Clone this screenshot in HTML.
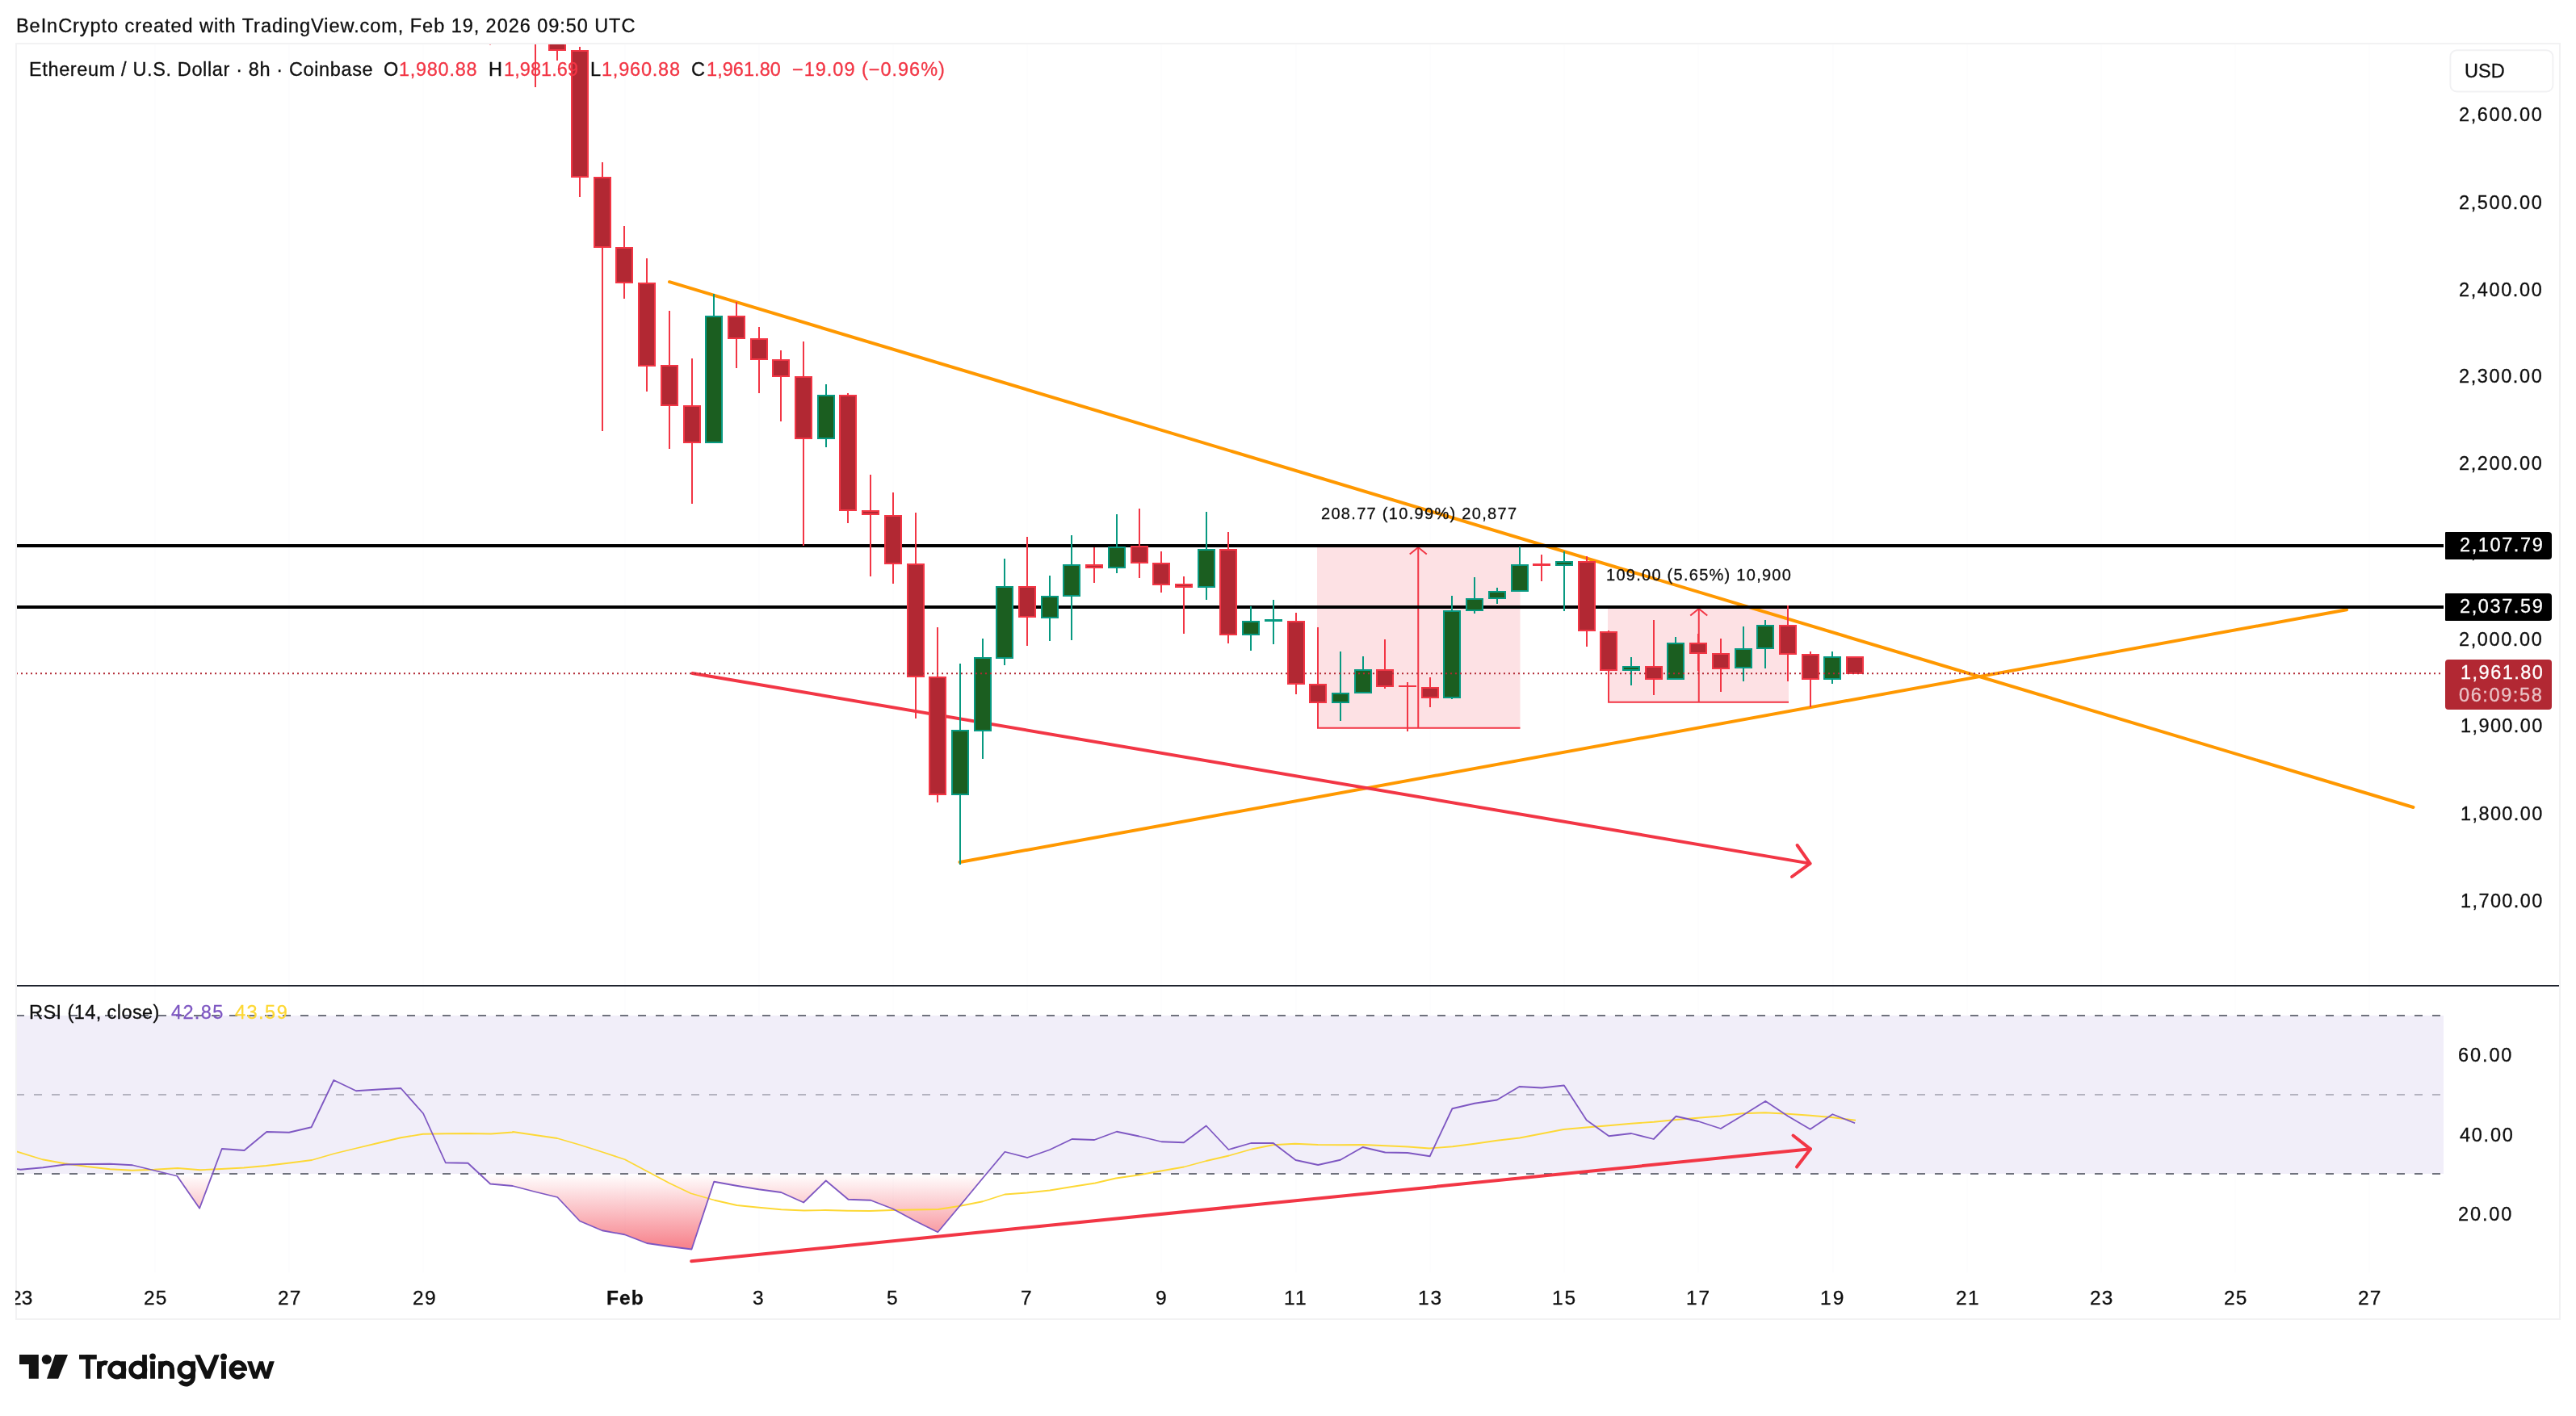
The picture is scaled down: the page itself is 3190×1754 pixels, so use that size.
<!DOCTYPE html>
<html lang="en"><head><meta charset="utf-8"><title>ETHUSD 8h chart</title>
<style>
html,body{margin:0;padding:0;background:#fff;}
body{width:3190px;height:1754px;position:relative;overflow:hidden;font-family:"Liberation Sans",sans-serif;}
svg{position:absolute;left:0;top:0;display:block}
.t{position:absolute;white-space:pre;font-family:"Liberation Sans",sans-serif;will-change:transform;-webkit-text-stroke:0.3px currentColor;}
</style></head><body>
<svg width="3190" height="1754" viewBox="0 0 3190 1754" shape-rendering="auto">
<rect x="191" y="55" width="2" height="1521" fill="#fdfdfe"/>
<rect x="357" y="55" width="2" height="1521" fill="#fdfdfe"/>
<rect x="523" y="55" width="2" height="1521" fill="#fdfdfe"/>
<rect x="773" y="55" width="2" height="1521" fill="#fdfdfe"/>
<rect x="939" y="55" width="2" height="1521" fill="#fdfdfe"/>
<rect x="1105" y="55" width="2" height="1521" fill="#fdfdfe"/>
<rect x="1271" y="55" width="2" height="1521" fill="#fdfdfe"/>
<rect x="1437" y="55" width="2" height="1521" fill="#fdfdfe"/>
<rect x="1604" y="55" width="2" height="1521" fill="#fdfdfe"/>
<rect x="1770" y="55" width="2" height="1521" fill="#fdfdfe"/>
<rect x="1936" y="55" width="2" height="1521" fill="#fdfdfe"/>
<rect x="2102" y="55" width="2" height="1521" fill="#fdfdfe"/>
<rect x="2269" y="55" width="2" height="1521" fill="#fdfdfe"/>
<rect x="2435" y="55" width="2" height="1521" fill="#fdfdfe"/>
<rect x="2601" y="55" width="2" height="1521" fill="#fdfdfe"/>
<rect x="2767" y="55" width="2" height="1521" fill="#fdfdfe"/>
<rect x="2933" y="55" width="2" height="1521" fill="#fdfdfe"/>
<rect x="21" y="1258" width="3005" height="196" fill="#f1eef9"/>
<defs><linearGradient id="g30" gradientUnits="userSpaceOnUse" x1="0" y1="1454" x2="0" y2="1601"><stop offset="0" stop-color="#f23645" stop-opacity="0"/><stop offset="1" stop-color="#f23645" stop-opacity="1"/></linearGradient><clipPath id="cb30"><rect x="21" y="1454" width="3005" height="200"/></clipPath><clipPath id="cmain"><rect x="21" y="55" width="3005" height="1165"/></clipPath><clipPath id="crsi"><rect x="21" y="1222" width="3005" height="355"/></clipPath></defs>
<path d="M20.0,1454 L20.0,1448.00 L25.5,1448.75 L53.2,1446.25 L80.9,1442.50 L108.6,1442.00 L136.3,1441.75 L164.0,1443.25 L191.7,1450.00 L219.4,1456.75 L247.1,1496.75 L274.8,1423.00 L302.5,1425.00 L330.2,1402.00 L357.9,1402.75 L385.6,1396.25 L413.3,1338.00 L441.0,1351.25 L468.7,1349.50 L496.4,1348.00 L524.1,1379.25 L551.8,1440.25 L579.5,1440.75 L607.2,1466.50 L634.9,1469.00 L662.6,1476.25 L690.3,1483.00 L718.0,1512.50 L745.7,1524.25 L773.4,1529.25 L801.1,1540.00 L828.8,1544.00 L856.5,1547.50 L884.2,1463.75 L911.9,1468.75 L939.6,1473.25 L967.3,1477.00 L995.1,1489.50 L1022.8,1462.50 L1050.5,1485.75 L1078.2,1486.75 L1105.9,1497.50 L1133.6,1512.50 L1161.3,1526.25 L1189.0,1493.25 L1216.7,1459.75 L1244.4,1426.75 L1272.1,1434.00 L1299.8,1424.25 L1327.5,1411.00 L1355.2,1412.00 L1382.9,1401.75 L1410.6,1407.50 L1438.3,1414.25 L1466.0,1415.25 L1493.7,1394.50 L1521.4,1424.00 L1549.1,1416.00 L1576.8,1416.00 L1604.5,1437.00 L1632.2,1443.00 L1659.9,1436.75 L1687.6,1421.00 L1715.3,1427.50 L1743.0,1428.00 L1770.7,1432.25 L1798.4,1373.25 L1826.1,1366.75 L1853.8,1362.50 L1881.5,1346.00 L1909.2,1347.50 L1936.9,1344.50 L1964.7,1387.50 L1992.4,1407.25 L2020.1,1404.00 L2047.8,1411.00 L2075.5,1382.75 L2103.2,1389.00 L2130.9,1398.00 L2158.6,1381.25 L2186.3,1364.00 L2214.0,1382.50 L2241.7,1398.75 L2269.4,1380.25 L2297.1,1391.25 L2297.1,1454 Z" fill="url(#g30)" clip-path="url(#cb30)"/>
<line x1="20" y1="1258" x2="3026" y2="1258" stroke="#6f727d" stroke-width="2" stroke-dasharray="10 12" stroke-dashoffset="0"/>
<line x1="20" y1="1356" x2="3026" y2="1356" stroke="#b4b3c0" stroke-width="2" stroke-dasharray="10 12" stroke-dashoffset="0"/>
<line x1="20" y1="1454" x2="3026" y2="1454" stroke="#6f727d" stroke-width="2" stroke-dasharray="10 12" stroke-dashoffset="0"/>
<g clip-path="url(#crsi)">
<polyline fill="none" stroke="#fdd835" stroke-width="1.8" stroke-linejoin="round" points="20.0,1426.25 52.5,1436.25 80.0,1441.25 107.5,1445.00 136.2,1448.25 163.8,1449.75 191.2,1448.75 220.0,1447.00 248.0,1449.25 274.2,1448.00 302.0,1446.50 329.5,1444.00 358.8,1440.50 386.2,1437.00 413.8,1429.00 440.5,1422.50 468.8,1415.75 496.2,1409.25 523.8,1404.75 552.0,1404.25 580.0,1404.00 608.0,1404.50 635.0,1402.50 635.0,1402.00 690.0,1410.00 717.5,1418.00 745.8,1427.00 773.8,1436.25 802.0,1451.25 828.8,1465.50 855.5,1478.25 885.0,1486.75 912.5,1493.00 940.0,1495.75 967.5,1498.25 995.8,1499.50 1022.0,1499.00 1049.5,1499.75 1077.5,1500.00 1105.0,1499.00 1132.5,1498.50 1162.0,1498.00 1189.2,1493.75 1217.0,1488.25 1244.2,1479.50 1271.8,1477.50 1300.0,1474.50 1327.5,1470.00 1356.2,1465.50 1381.8,1459.50 1410.0,1455.50 1437.5,1450.50 1466.2,1445.50 1493.8,1438.00 1522.0,1431.50 1550.0,1423.50 1576.2,1418.25 1603.8,1416.75 1632.0,1418.00 1660.0,1418.25 1688.0,1418.00 1716.2,1419.25 1743.8,1420.50 1770.0,1422.50 1798.8,1420.25 1826.2,1416.75 1853.8,1412.75 1882.0,1409.50 1909.2,1404.25 1936.2,1399.00 1964.5,1396.50 1991.8,1394.25 2020.0,1391.75 2048.0,1389.75 2075.5,1387.00 2102.5,1384.75 2130.0,1382.50 2157.5,1379.25 2185.8,1378.25 2213.8,1379.75 2241.8,1381.75 2270.0,1384.25 2298.0,1387.75"/>
<polyline fill="none" stroke="#7e57c2" stroke-width="1.8" stroke-linejoin="round" points="20.0,1448.00 25.5,1448.75 53.2,1446.25 80.9,1442.50 108.6,1442.00 136.3,1441.75 164.0,1443.25 191.7,1450.00 219.4,1456.75 247.1,1496.75 274.8,1423.00 302.5,1425.00 330.2,1402.00 357.9,1402.75 385.6,1396.25 413.3,1338.00 441.0,1351.25 468.7,1349.50 496.4,1348.00 524.1,1379.25 551.8,1440.25 579.5,1440.75 607.2,1466.50 634.9,1469.00 662.6,1476.25 690.3,1483.00 718.0,1512.50 745.7,1524.25 773.4,1529.25 801.1,1540.00 828.8,1544.00 856.5,1547.50 884.2,1463.75 911.9,1468.75 939.6,1473.25 967.3,1477.00 995.1,1489.50 1022.8,1462.50 1050.5,1485.75 1078.2,1486.75 1105.9,1497.50 1133.6,1512.50 1161.3,1526.25 1189.0,1493.25 1216.7,1459.75 1244.4,1426.75 1272.1,1434.00 1299.8,1424.25 1327.5,1411.00 1355.2,1412.00 1382.9,1401.75 1410.6,1407.50 1438.3,1414.25 1466.0,1415.25 1493.7,1394.50 1521.4,1424.00 1549.1,1416.00 1576.8,1416.00 1604.5,1437.00 1632.2,1443.00 1659.9,1436.75 1687.6,1421.00 1715.3,1427.50 1743.0,1428.00 1770.7,1432.25 1798.4,1373.25 1826.1,1366.75 1853.8,1362.50 1881.5,1346.00 1909.2,1347.50 1936.9,1344.50 1964.7,1387.50 1992.4,1407.25 2020.1,1404.00 2047.8,1411.00 2075.5,1382.75 2103.2,1389.00 2130.9,1398.00 2158.6,1381.25 2186.3,1364.00 2214.0,1382.50 2241.7,1398.75 2269.4,1380.25 2297.1,1391.25"/>
<g fill="none" stroke="#f23645" stroke-width="4" stroke-linecap="round" stroke-linejoin="round"><line x1="856.2" y1="1562.3" x2="2242" y2="1423.3"/><polyline points="2220.5,1406.5 2242,1423.3 2225,1445.5"/></g>
</g>
<g clip-path="url(#cmain)">
<rect x="1631" y="676" width="251.5" height="226.5" fill="#fde1e4"/>
<rect x="1991" y="752" width="224" height="118.5" fill="#fde1e4"/>
<g fill="none" stroke="#f23645" stroke-width="2"><line x1="1631" y1="901.75" x2="1882.5" y2="901.75"/><line x1="1756.25" y1="901.75" x2="1756.25" y2="678.5"/><polyline points="1745.75,686.5 1756.25,678 1766.75,686.5"/><line x1="1991" y1="869.75" x2="2215" y2="869.75"/><line x1="2103.75" y1="869.75" x2="2103.75" y2="754.5"/><polyline points="2093.25,762.5 2103.75,754 2114.25,762.5"/></g>
<g fill="none" stroke="#ff9800" stroke-width="4" stroke-linecap="round"><line x1="829" y1="349.2" x2="2988.5" y2="1000"/><line x1="1188.5" y1="1068" x2="2906" y2="755.3"/></g>
<g fill="none" stroke="#f23645" stroke-width="4" stroke-linecap="round" stroke-linejoin="round"><line x1="857.5" y1="834" x2="2241.5" y2="1069.6"/><polyline points="2225.6,1047 2241.5,1069.6 2219,1086"/></g>
<rect x="21" y="674" width="3005" height="4" fill="#000"/>
<rect x="21" y="750" width="3005" height="4" fill="#000"/>
<rect x="662" y="40" width="2" height="68" fill="#f23645"/>
<rect x="606" y="40" width="2" height="15.5" fill="#f23645"/>
<rect x="689" y="40.00" width="2" height="35.00" fill="#f23645"/>
<rect x="680" y="41.00" width="20" height="21.00" fill="#b22833" stroke="#f23645" stroke-width="2"/>
<rect x="717" y="58.00" width="2" height="186.00" fill="#f23645"/>
<rect x="708" y="63.00" width="20" height="156.00" fill="#b22833" stroke="#f23645" stroke-width="2"/>
<rect x="745" y="201.00" width="2" height="333.00" fill="#f23645"/>
<rect x="736" y="220.00" width="20" height="86.00" fill="#b22833" stroke="#f23645" stroke-width="2"/>
<rect x="772" y="280.00" width="2" height="90.00" fill="#f23645"/>
<rect x="763" y="307.00" width="20" height="43.00" fill="#b22833" stroke="#f23645" stroke-width="2"/>
<rect x="800" y="320.00" width="2" height="165.00" fill="#f23645"/>
<rect x="791" y="351.00" width="20" height="102.00" fill="#b22833" stroke="#f23645" stroke-width="2"/>
<rect x="828" y="385.00" width="2" height="171.00" fill="#f23645"/>
<rect x="819" y="453.00" width="20" height="49.00" fill="#b22833" stroke="#f23645" stroke-width="2"/>
<rect x="856" y="444.00" width="2" height="180.00" fill="#f23645"/>
<rect x="847" y="503.00" width="20" height="45.00" fill="#b22833" stroke="#f23645" stroke-width="2"/>
<rect x="883" y="364.00" width="2" height="185.00" fill="#089981"/>
<rect x="874" y="392.00" width="20" height="156.00" fill="#1b5e20" stroke="#089981" stroke-width="2"/>
<rect x="911" y="374.00" width="2" height="82.00" fill="#f23645"/>
<rect x="902" y="392.00" width="20" height="27.00" fill="#b22833" stroke="#f23645" stroke-width="2"/>
<rect x="939" y="405.00" width="2" height="82.00" fill="#f23645"/>
<rect x="930" y="420.00" width="20" height="25.00" fill="#b22833" stroke="#f23645" stroke-width="2"/>
<rect x="966" y="434.00" width="2" height="88.00" fill="#f23645"/>
<rect x="957" y="446.00" width="20" height="20.00" fill="#b22833" stroke="#f23645" stroke-width="2"/>
<rect x="994" y="423.00" width="2" height="253.00" fill="#f23645"/>
<rect x="985" y="467.00" width="20" height="76.00" fill="#b22833" stroke="#f23645" stroke-width="2"/>
<rect x="1022" y="476.00" width="2" height="78.00" fill="#089981"/>
<rect x="1013" y="490.00" width="20" height="53.00" fill="#1b5e20" stroke="#089981" stroke-width="2"/>
<rect x="1049" y="487.00" width="2" height="161.00" fill="#f23645"/>
<rect x="1040" y="490.00" width="20" height="142.00" fill="#b22833" stroke="#f23645" stroke-width="2"/>
<rect x="1077" y="588.00" width="2" height="126.00" fill="#f23645"/>
<rect x="1068" y="633.00" width="20" height="4.00" fill="#b22833" stroke="#f23645" stroke-width="2"/>
<rect x="1105" y="610.00" width="2" height="113.00" fill="#f23645"/>
<rect x="1096" y="639.00" width="20" height="59.00" fill="#b22833" stroke="#f23645" stroke-width="2"/>
<rect x="1133" y="635.00" width="2" height="255.00" fill="#f23645"/>
<rect x="1124" y="699.00" width="20" height="139.00" fill="#b22833" stroke="#f23645" stroke-width="2"/>
<rect x="1160" y="777.00" width="2" height="217.00" fill="#f23645"/>
<rect x="1151" y="839.00" width="20" height="145.00" fill="#b22833" stroke="#f23645" stroke-width="2"/>
<rect x="1188" y="822.00" width="2" height="249.00" fill="#089981"/>
<rect x="1179" y="905.00" width="20" height="79.00" fill="#1b5e20" stroke="#089981" stroke-width="2"/>
<rect x="1216" y="791.00" width="2" height="149.00" fill="#089981"/>
<rect x="1207" y="815.00" width="20" height="90.00" fill="#1b5e20" stroke="#089981" stroke-width="2"/>
<rect x="1243" y="692.00" width="2" height="132.00" fill="#089981"/>
<rect x="1234" y="727.00" width="20" height="88.00" fill="#1b5e20" stroke="#089981" stroke-width="2"/>
<rect x="1271" y="665.00" width="2" height="135.00" fill="#f23645"/>
<rect x="1262" y="727.00" width="20" height="37.00" fill="#b22833" stroke="#f23645" stroke-width="2"/>
<rect x="1299" y="713.00" width="2" height="81.00" fill="#089981"/>
<rect x="1290" y="739.00" width="20" height="26.00" fill="#1b5e20" stroke="#089981" stroke-width="2"/>
<rect x="1326" y="663.00" width="2" height="130.00" fill="#089981"/>
<rect x="1317" y="700.00" width="20" height="38.00" fill="#1b5e20" stroke="#089981" stroke-width="2"/>
<rect x="1354" y="678.00" width="2" height="44.00" fill="#f23645"/>
<rect x="1345" y="700.00" width="20" height="3.00" fill="#b22833" stroke="#f23645" stroke-width="2"/>
<rect x="1382" y="637.00" width="2" height="73.00" fill="#089981"/>
<rect x="1373" y="678.00" width="20" height="25.00" fill="#1b5e20" stroke="#089981" stroke-width="2"/>
<rect x="1410" y="630.00" width="2" height="86.00" fill="#f23645"/>
<rect x="1401" y="677.00" width="20" height="20.00" fill="#b22833" stroke="#f23645" stroke-width="2"/>
<rect x="1437" y="683.00" width="2" height="51.00" fill="#f23645"/>
<rect x="1428" y="698.00" width="20" height="26.00" fill="#b22833" stroke="#f23645" stroke-width="2"/>
<rect x="1465" y="714.00" width="2" height="71.00" fill="#f23645"/>
<rect x="1456" y="724.00" width="20" height="3.00" fill="#b22833" stroke="#f23645" stroke-width="2"/>
<rect x="1493" y="634.00" width="2" height="109.00" fill="#089981"/>
<rect x="1484" y="681.00" width="20" height="46.00" fill="#1b5e20" stroke="#089981" stroke-width="2"/>
<rect x="1520" y="659.00" width="2" height="138.00" fill="#f23645"/>
<rect x="1511" y="681.00" width="20" height="105.00" fill="#b22833" stroke="#f23645" stroke-width="2"/>
<rect x="1548" y="751.00" width="2" height="55.00" fill="#089981"/>
<rect x="1539" y="770.00" width="20" height="16.00" fill="#1b5e20" stroke="#089981" stroke-width="2"/>
<rect x="1576" y="743.00" width="2" height="55.00" fill="#089981"/>
<rect x="1567" y="768.00" width="20" height="1.00" fill="#1b5e20" stroke="#089981" stroke-width="2"/>
<rect x="1604" y="759.00" width="2" height="101.00" fill="#f23645"/>
<rect x="1595" y="770.00" width="20" height="77.00" fill="#b22833" stroke="#f23645" stroke-width="2"/>
<rect x="1631" y="777.00" width="2" height="125.00" fill="#f23645"/>
<rect x="1622" y="848.00" width="20" height="22.00" fill="#b22833" stroke="#f23645" stroke-width="2"/>
<rect x="1659" y="807.00" width="2" height="86.00" fill="#089981"/>
<rect x="1650" y="859.00" width="20" height="11.00" fill="#1b5e20" stroke="#089981" stroke-width="2"/>
<rect x="1687" y="813.00" width="2" height="46.00" fill="#089981"/>
<rect x="1678" y="830.00" width="20" height="28.00" fill="#1b5e20" stroke="#089981" stroke-width="2"/>
<rect x="1714" y="792.00" width="2" height="61.00" fill="#f23645"/>
<rect x="1705" y="830.00" width="20" height="20.00" fill="#b22833" stroke="#f23645" stroke-width="2"/>
<rect x="1742" y="845.00" width="2" height="61.00" fill="#f23645"/>
<rect x="1732" y="849.00" width="22" height="2.00" fill="#f23645"/>
<rect x="1770" y="839.00" width="2" height="37.00" fill="#f23645"/>
<rect x="1761" y="852.00" width="20" height="12.00" fill="#b22833" stroke="#f23645" stroke-width="2"/>
<rect x="1797" y="738.00" width="2" height="128.00" fill="#089981"/>
<rect x="1788" y="757.00" width="20" height="107.00" fill="#1b5e20" stroke="#089981" stroke-width="2"/>
<rect x="1825" y="715.00" width="2" height="45.00" fill="#089981"/>
<rect x="1816" y="742.00" width="20" height="14.00" fill="#1b5e20" stroke="#089981" stroke-width="2"/>
<rect x="1853" y="728.00" width="2" height="20.00" fill="#089981"/>
<rect x="1844" y="733.00" width="20" height="8.00" fill="#1b5e20" stroke="#089981" stroke-width="2"/>
<rect x="1881" y="677.00" width="2" height="56.00" fill="#089981"/>
<rect x="1872" y="700.00" width="20" height="32.00" fill="#1b5e20" stroke="#089981" stroke-width="2"/>
<rect x="1908" y="687.00" width="2" height="33.00" fill="#f23645"/>
<rect x="1899" y="699.00" width="20" height="1.00" fill="#b22833" stroke="#f23645" stroke-width="2"/>
<rect x="1936" y="683.00" width="2" height="74.00" fill="#089981"/>
<rect x="1927" y="696.00" width="20" height="4.00" fill="#1b5e20" stroke="#089981" stroke-width="2"/>
<rect x="1964" y="689.00" width="2" height="112.00" fill="#f23645"/>
<rect x="1955" y="696.00" width="20" height="85.00" fill="#b22833" stroke="#f23645" stroke-width="2"/>
<rect x="1991" y="781.00" width="2" height="89.00" fill="#f23645"/>
<rect x="1982" y="783.00" width="20" height="47.00" fill="#b22833" stroke="#f23645" stroke-width="2"/>
<rect x="2019" y="814.00" width="2" height="35.00" fill="#089981"/>
<rect x="2010" y="826.00" width="20" height="4.00" fill="#1b5e20" stroke="#089981" stroke-width="2"/>
<rect x="2047" y="768.00" width="2" height="93.00" fill="#f23645"/>
<rect x="2038" y="826.00" width="20" height="15.00" fill="#b22833" stroke="#f23645" stroke-width="2"/>
<rect x="2074" y="789.00" width="2" height="53.00" fill="#089981"/>
<rect x="2065" y="797.00" width="20" height="44.00" fill="#1b5e20" stroke="#089981" stroke-width="2"/>
<rect x="2102" y="785.00" width="2" height="46.00" fill="#f23645"/>
<rect x="2093" y="797.00" width="20" height="12.00" fill="#b22833" stroke="#f23645" stroke-width="2"/>
<rect x="2130" y="791.00" width="2" height="66.00" fill="#f23645"/>
<rect x="2121" y="810.00" width="20" height="18.00" fill="#b22833" stroke="#f23645" stroke-width="2"/>
<rect x="2158" y="776.00" width="2" height="68.00" fill="#089981"/>
<rect x="2149" y="804.00" width="20" height="23.00" fill="#1b5e20" stroke="#089981" stroke-width="2"/>
<rect x="2185" y="768.00" width="2" height="60.00" fill="#089981"/>
<rect x="2176" y="775.00" width="20" height="28.00" fill="#1b5e20" stroke="#089981" stroke-width="2"/>
<rect x="2213" y="750.00" width="2" height="94.00" fill="#f23645"/>
<rect x="2204" y="775.00" width="20" height="35.00" fill="#b22833" stroke="#f23645" stroke-width="2"/>
<rect x="2241" y="807.00" width="2" height="69.00" fill="#f23645"/>
<rect x="2232" y="811.00" width="20" height="30.00" fill="#b22833" stroke="#f23645" stroke-width="2"/>
<rect x="2268" y="807.00" width="2" height="40.00" fill="#089981"/>
<rect x="2259" y="814.00" width="20" height="27.00" fill="#1b5e20" stroke="#089981" stroke-width="2"/>
<rect x="2296" y="813.00" width="2" height="22.00" fill="#f23645"/>
<rect x="2287" y="814.00" width="20" height="20.00" fill="#b22833" stroke="#f23645" stroke-width="2"/>
<line x1="20" y1="834.25" x2="3024" y2="834.25" stroke="#b22833" stroke-width="2" stroke-dasharray="2 4"/>
</g>
<rect x="19" y="53" width="3152" height="2" fill="#f2f2f3"/>
<rect x="19" y="1633" width="3152" height="2" fill="#f2f2f3"/>
<rect x="19" y="53" width="2" height="1582" fill="#f2f2f3"/>
<rect x="3169" y="53" width="2" height="1582" fill="#f2f2f3"/>
<rect x="21" y="1220" width="3148" height="2" fill="#1f232e"/>
<rect x="3034.4" y="62.2" width="127" height="51.3" rx="8" ry="8" fill="#fff" stroke="#f1f1f3" stroke-width="1.9"/>
<g fill="#131313"><path d="M24,1678 H47.8 V1707.8 H35.8 V1690 H24 Z"/><circle cx="57.8" cy="1684" r="6.1"/><path d="M68.2,1678 H84 L72.2,1707.8 H58 Z"/></g>
<g fill="#111" aria-label="TradingView"><title>TradingView</title><g transform="translate(94,1670) scale(0.062112)"><rect x="65" y="130" width="350" height="92"/><rect x="195" y="130" width="93" height="478"/><rect x="420" y="262" width="92" height="346"/><path d="M466,440 V408 A114,114 0 0 1 625,303" fill="none" stroke="#111" stroke-width="92"/><circle cx="818" cy="433" r="139.5" fill="none" stroke="#111" stroke-width="91"/><rect x="903" y="262" width="94" height="346"/><circle cx="1236" cy="433" r="139.5" fill="none" stroke="#111" stroke-width="91"/><rect x="1322" y="130" width="93" height="478"/><rect x="1483" y="262" width="94" height="346"/><circle cx="1530" cy="165" r="62"/><rect x="1643" y="262" width="94" height="346"/><path d="M1916.5,608 V408 A113.25,113.25 0 0 0 1690,408" fill="none" stroke="#111" stroke-width="93"/><circle cx="2205" cy="433" r="139.5" fill="none" stroke="#111" stroke-width="91"/><path d="M2336,262 V580 A139,139 0 0 1 2082,658" fill="none" stroke="#111" stroke-width="92"/></g><path d="M241.09,1678.15 H247.7 L256.88,1698.42 L265.4,1678.15 H271.69 L260.28,1707.83 H253.99 Z"/><rect x="274.02" y="1686.21" width="5.92" height="21.62"/><circle cx="277.05" cy="1680.48" r="3.96"/><path fill-rule="evenodd" d="M283.57,1696.85 a11.17,11.8 0 1 0 22.34,0 a11.17,11.8 0 1 0 -22.34,0 Z M289.72,1696.66 a5.18,6.41 0 1 0 10.36,0 a5.18,6.41 0 1 0 -10.36,0 Z"/><rect x="289.5" y="1693.98" width="16.3" height="4.08"/><path fill="#fff" d="M295.5,1698.06 H308 V1705.35 L300.78,1700.27 H295.5 Z"/><path d="M306.02,1686.17 H311.96 L316.39,1699.8 L321.05,1686.17 H325.94 L329.32,1699.8 L333.63,1686.17 H339.8 L332.81,1707.73 H327.34 L322.68,1696.08 L318.72,1707.73 H313.24 Z"/></g>
</svg>
<div class="t" style="left:19.80px;top:18.36px;height:29px;line-height:29px;font-size:23.5px;letter-spacing:0.949px;color:#0f0f0f;">BeInCrypto created with TradingView.com, Feb 19, 2026 09:50 UTC</div>
<div class="t" style="left:35.80px;top:72.36px;height:29px;line-height:29px;font-size:23.5px;letter-spacing:0.632px;color:#0f0f0f;">Ethereum / U.S. Dollar · 8h · Coinbase</div>
<div class="t" style="left:474.56px;top:72.36px;height:29px;line-height:29px;font-size:23.5px;letter-spacing:0.000px;color:#0f0f0f;">O</div>
<div class="t" style="left:493.61px;top:72.36px;height:29px;line-height:29px;font-size:23.5px;letter-spacing:0.720px;color:#f23645;">1,980.88</div>
<div class="t" style="left:605.00px;top:72.36px;height:29px;line-height:29px;font-size:23.5px;letter-spacing:0.000px;color:#0f0f0f;">H</div>
<div class="t" style="left:623.61px;top:72.36px;height:29px;line-height:29px;font-size:23.5px;letter-spacing:0.077px;color:#f23645;">1,981.69</div>
<div class="t" style="left:730.80px;top:72.36px;height:29px;line-height:29px;font-size:23.5px;letter-spacing:0.000px;color:#0f0f0f;">L</div>
<div class="t" style="left:745.41px;top:72.36px;height:29px;line-height:29px;font-size:23.5px;letter-spacing:0.786px;color:#f23645;">1,960.88</div>
<div class="t" style="left:856.44px;top:72.36px;height:29px;line-height:29px;font-size:23.5px;letter-spacing:0.000px;color:#0f0f0f;">C</div>
<div class="t" style="left:875.41px;top:72.36px;height:29px;line-height:29px;font-size:23.5px;letter-spacing:0.063px;color:#f23645;">1,961.80</div>
<div class="t" style="left:981.45px;top:72.36px;height:29px;line-height:29px;font-size:23.5px;letter-spacing:0.983px;color:#f23645;">−19.09 (−0.96%)</div>
<div class="t" style="left:3045.49px;top:128.41px;height:29px;line-height:29px;font-size:23.5px;letter-spacing:1.605px;color:#0f0f0f;">2,600.00</div>
<div class="t" style="left:3045.49px;top:236.81px;height:29px;line-height:29px;font-size:23.5px;letter-spacing:1.605px;color:#0f0f0f;">2,500.00</div>
<div class="t" style="left:3045.49px;top:344.81px;height:29px;line-height:29px;font-size:23.5px;letter-spacing:1.605px;color:#0f0f0f;">2,400.00</div>
<div class="t" style="left:3045.49px;top:452.21px;height:29px;line-height:29px;font-size:23.5px;letter-spacing:1.605px;color:#0f0f0f;">2,300.00</div>
<div class="t" style="left:3045.49px;top:560.21px;height:29px;line-height:29px;font-size:23.5px;letter-spacing:1.605px;color:#0f0f0f;">2,200.00</div>
<div class="t" style="left:3045.49px;top:777.81px;height:29px;line-height:29px;font-size:23.5px;letter-spacing:1.605px;color:#0f0f0f;">2,000.00</div>
<div class="t" style="left:3046.61px;top:885.21px;height:29px;line-height:29px;font-size:23.5px;letter-spacing:1.406px;color:#0f0f0f;">1,900.00</div>
<div class="t" style="left:3046.61px;top:994.21px;height:29px;line-height:29px;font-size:23.5px;letter-spacing:1.406px;color:#0f0f0f;">1,800.00</div>
<div class="t" style="left:3046.61px;top:1102.21px;height:29px;line-height:29px;font-size:23.5px;letter-spacing:1.406px;color:#0f0f0f;">1,700.00</div>
<div class="t" style="left:3052.18px;top:74.01px;height:29px;line-height:29px;font-size:23.5px;letter-spacing:0.033px;color:#0f0f0f;">USD</div>
<div class="t" style="left:3045.49px;top:669.41px;height:29px;line-height:29px;font-size:23.5px;letter-spacing:1.605px;color:#0f0f0f;">2,100.00</div>
<div style="position:absolute;left:3028px;top:659px;width:132px;height:34px;background:#000;border-radius:1px 4px 4px 1px"></div>
<div style="position:absolute;left:3028px;top:735px;width:132px;height:34px;background:#000;border-radius:1px 4px 4px 1px"></div>
<div style="position:absolute;left:3028px;top:817px;width:132px;height:62px;background:#b22833;border-radius:4px"></div>
<div class="t" style="left:3046.09px;top:660.81px;height:29px;line-height:29px;font-size:23.5px;letter-spacing:1.609px;color:#fff;">2,107.79</div>
<div class="t" style="left:3046.09px;top:737.41px;height:29px;line-height:29px;font-size:23.5px;letter-spacing:1.609px;color:#fff;">2,037.59</div>
<div class="t" style="left:3046.61px;top:819.21px;height:29px;line-height:29px;font-size:23.5px;letter-spacing:1.491px;color:#fff;">1,961.80</div>
<div class="t" style="left:3044.80px;top:846.81px;height:29px;line-height:29px;font-size:23.5px;letter-spacing:1.613px;color:#e9c0c4;">06:09:58</div>
<div class="t" style="left:3044.41px;top:1293.21px;height:29px;line-height:29px;font-size:23.5px;letter-spacing:1.908px;color:#0f0f0f;">60.00</div>
<div class="t" style="left:3045.97px;top:1392.21px;height:29px;line-height:29px;font-size:23.5px;letter-spacing:1.737px;color:#0f0f0f;">40.00</div>
<div class="t" style="left:3044.49px;top:1490.01px;height:29px;line-height:29px;font-size:23.5px;letter-spacing:1.887px;color:#0f0f0f;">20.00</div>
<div class="t" style="left:177.90px;top:1591.69px;height:31px;line-height:31px;font-size:24.5px;letter-spacing:1.127px;color:#0f0f0f;">25</div>
<div class="t" style="left:343.70px;top:1591.69px;height:31px;line-height:31px;font-size:24.5px;letter-spacing:1.210px;color:#0f0f0f;">27</div>
<div class="t" style="left:510.50px;top:1591.69px;height:31px;line-height:31px;font-size:24.5px;letter-spacing:1.274px;color:#0f0f0f;">29</div>
<div class="t" style="left:932.32px;top:1591.69px;height:31px;line-height:31px;font-size:24.5px;letter-spacing:0.000px;color:#0f0f0f;">3</div>
<div class="t" style="left:1098.22px;top:1591.69px;height:31px;line-height:31px;font-size:24.5px;letter-spacing:0.000px;color:#0f0f0f;">5</div>
<div class="t" style="left:1263.90px;top:1591.69px;height:31px;line-height:31px;font-size:24.5px;letter-spacing:0.000px;color:#0f0f0f;">7</div>
<div class="t" style="left:1430.77px;top:1591.69px;height:31px;line-height:31px;font-size:24.5px;letter-spacing:0.000px;color:#0f0f0f;">9</div>
<div class="t" style="left:1590.44px;top:1591.69px;height:31px;line-height:31px;font-size:24.5px;letter-spacing:2.295px;color:#0f0f0f;">11</div>
<div class="t" style="left:1755.88px;top:1591.69px;height:31px;line-height:31px;font-size:24.5px;letter-spacing:1.970px;color:#0f0f0f;">13</div>
<div class="t" style="left:1921.68px;top:1591.69px;height:31px;line-height:31px;font-size:24.5px;letter-spacing:1.859px;color:#0f0f0f;">15</div>
<div class="t" style="left:2088.48px;top:1591.69px;height:31px;line-height:31px;font-size:24.5px;letter-spacing:1.763px;color:#0f0f0f;">17</div>
<div class="t" style="left:2254.28px;top:1591.69px;height:31px;line-height:31px;font-size:24.5px;letter-spacing:2.017px;color:#0f0f0f;">19</div>
<div class="t" style="left:2421.70px;top:1591.69px;height:31px;line-height:31px;font-size:24.5px;letter-spacing:1.280px;color:#0f0f0f;">21</div>
<div class="t" style="left:2587.50px;top:1591.69px;height:31px;line-height:31px;font-size:24.5px;letter-spacing:1.227px;color:#0f0f0f;">23</div>
<div class="t" style="left:2754.30px;top:1591.69px;height:31px;line-height:31px;font-size:24.5px;letter-spacing:1.127px;color:#0f0f0f;">25</div>
<div class="t" style="left:2920.10px;top:1591.69px;height:31px;line-height:31px;font-size:24.5px;letter-spacing:1.210px;color:#0f0f0f;">27</div>
<div class="t" style="left:750.64px;top:1591.69px;height:31px;line-height:31px;font-size:24.5px;letter-spacing:1.054px;color:#0f0f0f;font-weight:700;">Feb</div>
<div class="t" style="left:1636.00px;top:624.17px;height:25px;line-height:25px;font-size:20px;letter-spacing:1.305px;color:#0f0f0f;">208.77 (10.99%) 20,877</div>
<div class="t" style="left:1989.19px;top:699.97px;height:25px;line-height:25px;font-size:20px;letter-spacing:1.269px;color:#0f0f0f;">109.00 (5.65%) 10,900</div>
<div class="t" style="left:35.80px;top:1240.36px;height:29px;line-height:29px;font-size:23.5px;letter-spacing:0.429px;color:#0f0f0f;">RSI (14, close)</div>
<div class="t" style="left:212.37px;top:1240.36px;height:29px;line-height:29px;font-size:23.5px;letter-spacing:1.360px;color:#7e57c2;">42.85</div>
<div class="t" style="left:291.17px;top:1240.36px;height:29px;line-height:29px;font-size:23.5px;letter-spacing:1.481px;color:#fdd835;">43.59</div>
<div style="position:absolute;left:19px;top:1580px;width:60px;height:50px;overflow:hidden"><div class="t" style="left:-6.02px;top:11.68px;height:31px;line-height:31px;font-size:24.5px;color:#0f0f0f">23</div></div>
</body></html>
